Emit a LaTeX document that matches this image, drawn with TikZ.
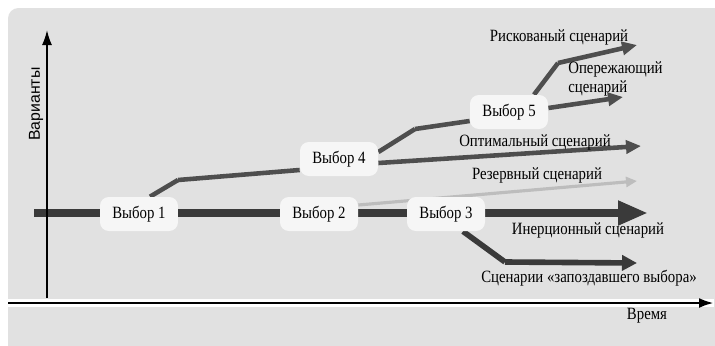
\documentclass[tikz,border=0pt]{standalone}
\usepackage{fontspec}
\setmainfont{Liberation Serif}[FakeStretch=0.86]
\setsansfont{Liberation Sans}
\usetikzlibrary{arrows.meta,positioning,calc,backgrounds}
\definecolor{panelcol}{HTML}{E1E1E1}
\definecolor{boxcol}{HTML}{F6F6F6}
\definecolor{trunkcol}{HTML}{3A3A3A}
\definecolor{branchcol}{HTML}{4E4E4E}
\definecolor{sparecol}{HTML}{BDBDBD}

\begin{document}
\begin{tikzpicture}
[x=0.02cm,y=-0.02cm,
every node/.style={font=\fontsize{9.8}{10.8}\selectfont},
choice/.style={shape=rectangle,rounded corners=5pt,fill=boxcol,minimum width=1.56cm,minimum height=.68cm,inner sep=1pt},
sclabel/.style={inner sep=0pt},
trunk/.style={line width=4.5pt,draw=trunkcol,-{Triangle[width=.46cm,length=.6cm]}},
branch/.style={line width=2.6pt,draw=branchcol,-{Triangle[width=.26cm,length=.3cm]}},
late/.style={line width=3.2pt,draw=trunkcol,-{Triangle[width=.3cm,length=.3cm]}},
spare/.style={line width=1.8pt,draw=sparecol,-{Triangle[width=.2cm,length=.22cm]}},
axis/.style={draw=black,-{Latex[length=.3cm,width=.2cm]}}]
%%
% frame
%%
\useasboundingbox (0,0) rectangle (715,345);
%%
% axes
%%
\coordinate (yfoot) at (47,298);
\coordinate (ytop) at (47,30);
\coordinate (xfoot) at (8,303);
\coordinate (xtop) at (714,303);
\draw[axis,line width=1pt] (yfoot) -- (ytop);
\draw[white,line width=4pt] (xfoot) -- (xtop);
\draw[axis,line width=1.6pt] (xfoot) -- (xtop);
\node[sclabel,rotate=90,font=\sffamily\fontsize{9}{10}\selectfont] (yname) at (36,104) {Варианты};
\node[sclabel] (xname) at (647,316) {Время};
%%
% choices
%%
\node[choice] (v1) at (139,214) {Выбор 1};
\node[choice] (v2) at (319,214) {Выбор 2};
\node[choice] (v3) at (446,214) {Выбор 3};
\node[choice] (v4) at (339,159) {Выбор 4};
\node[choice] (v5) at (509,112) {Выбор 5};
%%
% bends and ends
%%
\coordinate (start) at (34,213);
\coordinate (inertend) at (648,213);
\coordinate (b14) at (178,180);
\coordinate (b45) at (415,129);
\coordinate (brisk) at (558,63);
\coordinate (blate) at (505,262);
\coordinate (riskend) at (637,45);
\coordinate (leadend) at (623,97);
\coordinate (optend) at (641,146);
\coordinate (spareend) at (637,181);
\coordinate (lateend) at (637,263);
%%
% scenarios
%%
\begin{pgfonlayer}{background}
\fill[white] (0,0) rectangle (715,345);
\fill[panelcol,rounded corners=6pt] (8,8) rectangle (730,360);
\draw[trunk] (start) -- (inertend);
\path
($(v1.north)+(11,0)$) edge[branch,-] (b14)
(b14) edge[branch,-] ($(v4.west)+(0,11)$)
($(v4.east)+(0,4)$) edge[branch] (optend)
($(v4.east)+(0,-7)$) edge[branch,-] (b45)
(b45) edge[branch,-] ($(v5.west)+(0,9)$)
($(v5.east)+(0,-4)$) edge[branch] (leadend)
($(v5.north)+(25,0)$) edge[branch,-] (brisk)
(brisk) edge[branch] (riskend)
($(v2.east)+(0,-9)$) edge[spare] (spareend)
($(v3.south)+(17,0)$) edge[late,-] (blate)
(blate) edge[late] (lateend);
\end{pgfonlayer}
%%
% labels
%%
\node[sclabel] (risk) at (559,37) {Рискованый сценарий};
\node[sclabel,align=left,anchor=west] (lead) at (568,79) {Опережающий\\сценарий};
\node[sclabel] (opt) at (535,142) {Оптимальный сценарий};
\node[sclabel] (res) at (537,175) {Резервный сценарий};
\node[sclabel] (inert) at (588,230) {Инерционный сценарий};
\node[sclabel] (lat) at (589,278) {Сценарии «запоздавшего выбора»};
\end{tikzpicture}
\end{document}
